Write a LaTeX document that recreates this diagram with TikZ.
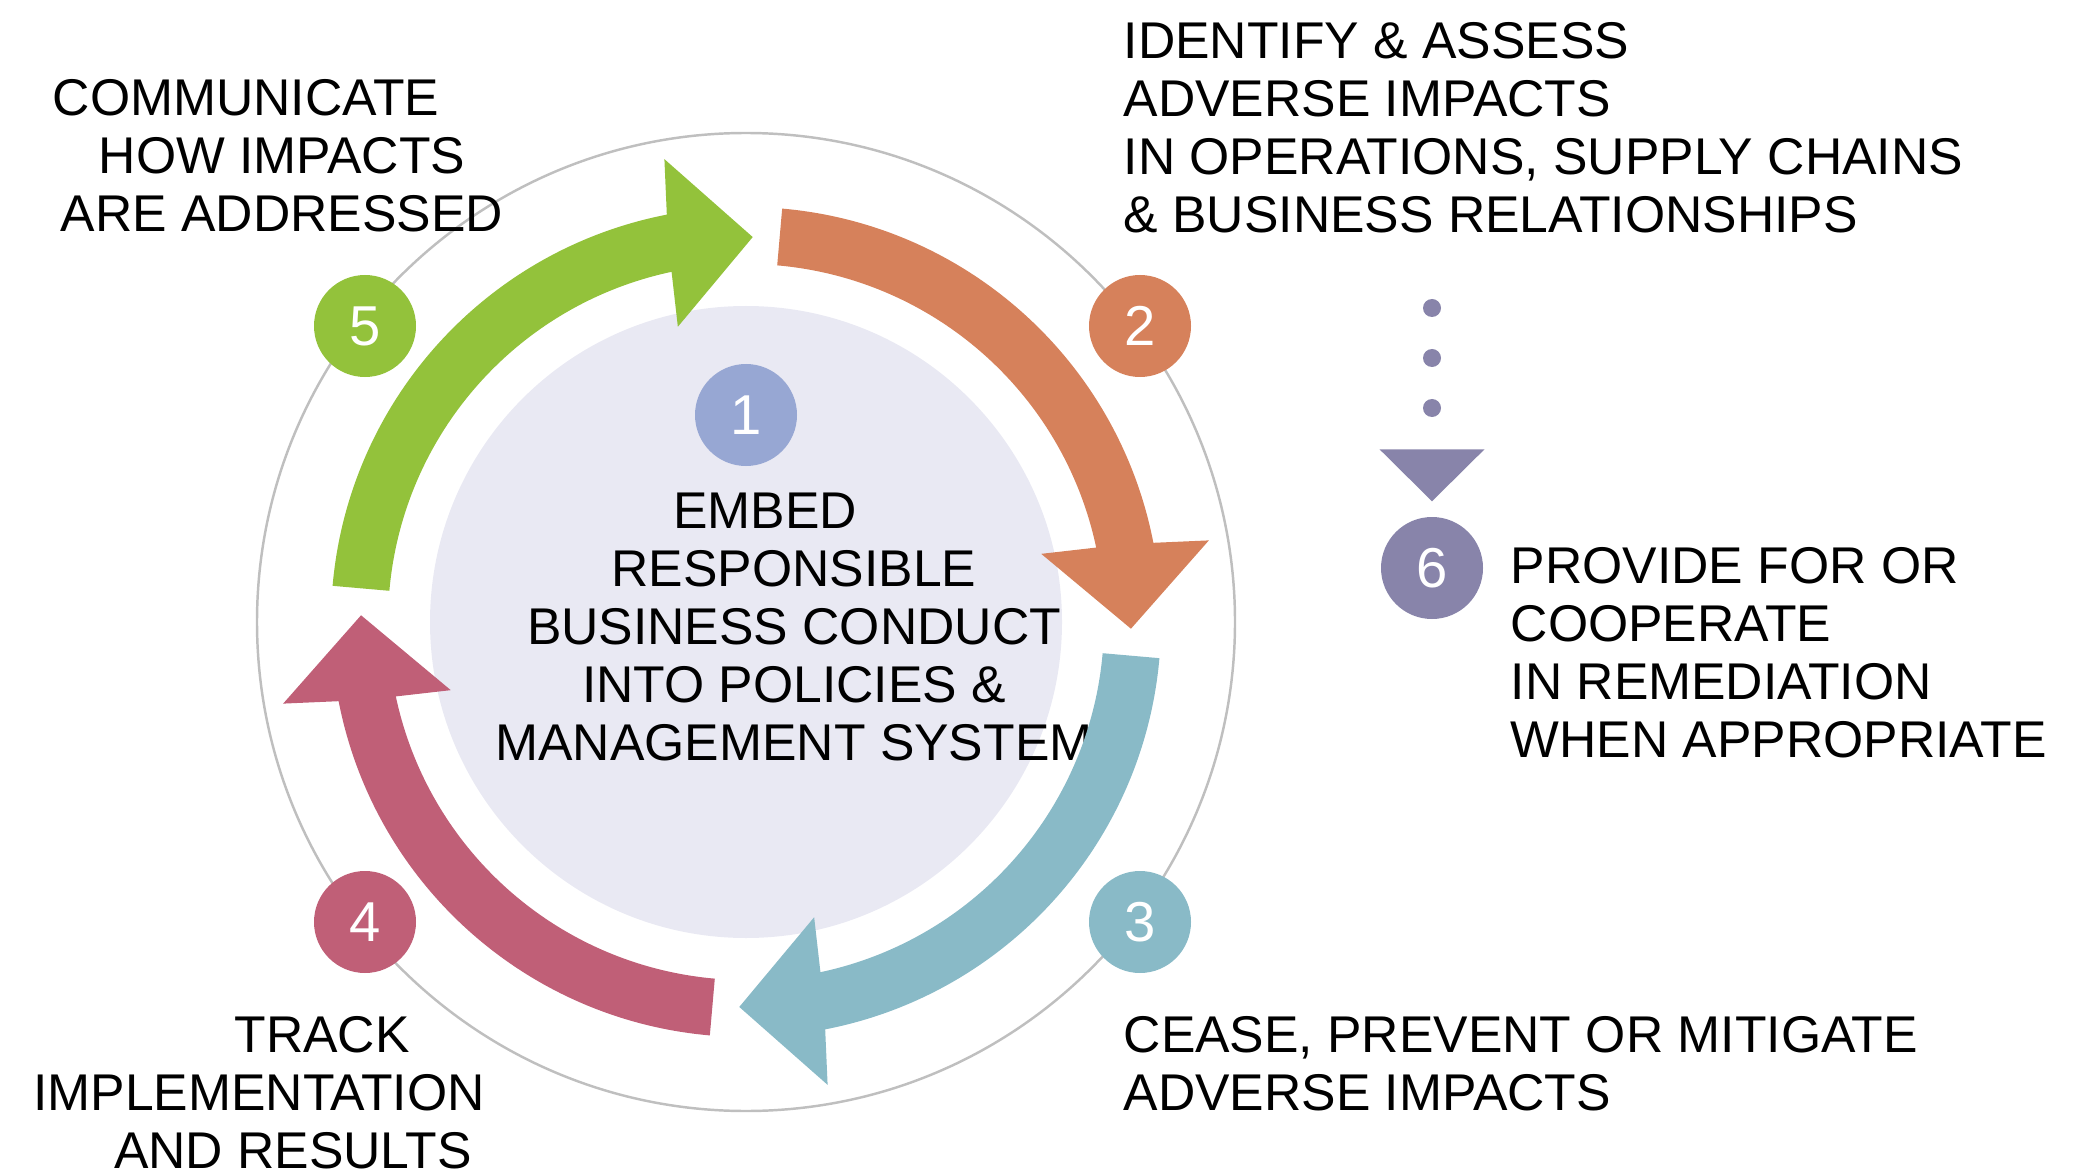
\documentclass[tikz,border=0pt]{standalone}
\usepackage{fontspec}
\setmainfont{Liberation Sans}
\usetikzlibrary{arrows.meta}

\definecolor{ringgray}{HTML}{BFBFBF}
\definecolor{corefill}{HTML}{E9E9F3}
\definecolor{embedblue}{HTML}{97A7D3}
\definecolor{commgreen}{HTML}{93C23B}
\definecolor{assessorange}{HTML}{D6815B}
\definecolor{ceaseteal}{HTML}{89BAC7}
\definecolor{trackrose}{HTML}{C05F77}
\definecolor{remedypurple}{HTML}{8884AA}

\begin{document}
\begin{tikzpicture}[
        every node/.style = {inner sep=0pt, font=\fontsize{14.7}{16.5}\selectfont},
        num/.style = {shape=circle, minimum size=1.02cm, text=white,
            font=\fontsize{16}{18}\selectfont},
        ringline/.style = {draw=ringgray, line width=0.7pt},
        dotline/.style = {draw=remedypurple, line width=0.18cm, line cap=round,
            dash pattern=on 0pt off 0.5cm, shorten >=0.15cm,
            -{Triangle[width=1.05cm, length=0.52cm, line width=0pt]}}]
    \useasboundingbox (0,0) rectangle (20.87,11.74);

    \coordinate (c) at (7.46,5.52);
    \draw[ringline] (c) circle[radius=4.89];
    \node[shape=circle, fill=corefill, minimum size=6.32cm] (core) at (c) {};
    \node[align=center] (embed) at (7.94,5.47)
        {EMBED\hspace*{0.58cm}\\RESPONSIBLE\hspace*{0.2cm}\\BUSINESS CONDUCT\\INTO POLICIES \&\\MANAGEMENT SYSTEM};
    \node[num, fill=embedblue] (1) at (7.46,7.59) {1};

    % cycle arrows
    \begin{scope}[shift={(c)}]
        \fill[commgreen] (175:4.15) arc[start angle=175, end angle=101, radius=4.15]
            -- (100:4.70) -- (89:3.85) -- (103:3.03) -- (102:3.58)
            arc[start angle=102, end angle=175, radius=3.58] -- cycle;
        \fill[assessorange] (85:4.15) arc[start angle=85, end angle=11, radius=4.15]
            -- (10:4.70) -- (-1:3.85) -- (13:3.03) -- (12:3.58)
            arc[start angle=12, end angle=85, radius=3.58] -- cycle;
        \fill[ceaseteal] (-5:4.15) arc[start angle=-5, end angle=-79, radius=4.15]
            -- (-80:4.70) -- (-91:3.85) -- (-77:3.03) -- (-78:3.58)
            arc[start angle=-78, end angle=-5, radius=3.58] -- cycle;
        \fill[trackrose] (-95:4.15) arc[start angle=-95, end angle=-169, radius=4.15]
            -- (-170:4.70) -- (-181:3.85) -- (-167:3.03) -- (-168:3.58)
            arc[start angle=-168, end angle=-95, radius=3.58] -- cycle;
    \end{scope}

    \node[num, fill=assessorange] (2) at (11.40,8.48) {2};
    \node[num, fill=ceaseteal] (3) at (11.40,2.52) {3};
    \node[num, fill=trackrose] (4) at (3.65,2.52) {4};
    \node[num, fill=commgreen] (5) at (3.65,8.48) {5};

    \node[align=center] (communicate) at (2.82,10.185)
        {COMMUNICATE\hspace*{0.72cm}\\HOW IMPACTS\\ARE ADDRESSED};
    \node[anchor=west, align=left] (identify) at (11.23,10.46)
        {IDENTIFY \& ASSESS\\ADVERSE IMPACTS\\IN OPERATIONS, SUPPLY CHAINS\\\& BUSINESS RELATIONSHIPS};
    \node[anchor=west, align=left] (cease) at (11.23,1.10)
        {CEASE, PREVENT OR MITIGATE\\ADVERSE IMPACTS};
    \node[align=center] (track) at (2.59,0.815)
        {\hspace*{1.26cm}TRACK\\IMPLEMENTATION\\\hspace*{0.68cm}AND RESULTS};

    % remediation
    \node[num, fill=remedypurple] (6) at (14.32,6.06) {6};
    \coordinate (dtop) at (14.32,8.66);
    \draw[dotline] (dtop) -- (6);
    \node[anchor=west, align=left] (remedy) at (15.10,5.215)
        {PROVIDE FOR OR\\COOPERATE\\IN REMEDIATION\\WHEN APPROPRIATE};
\end{tikzpicture}
\end{document}
